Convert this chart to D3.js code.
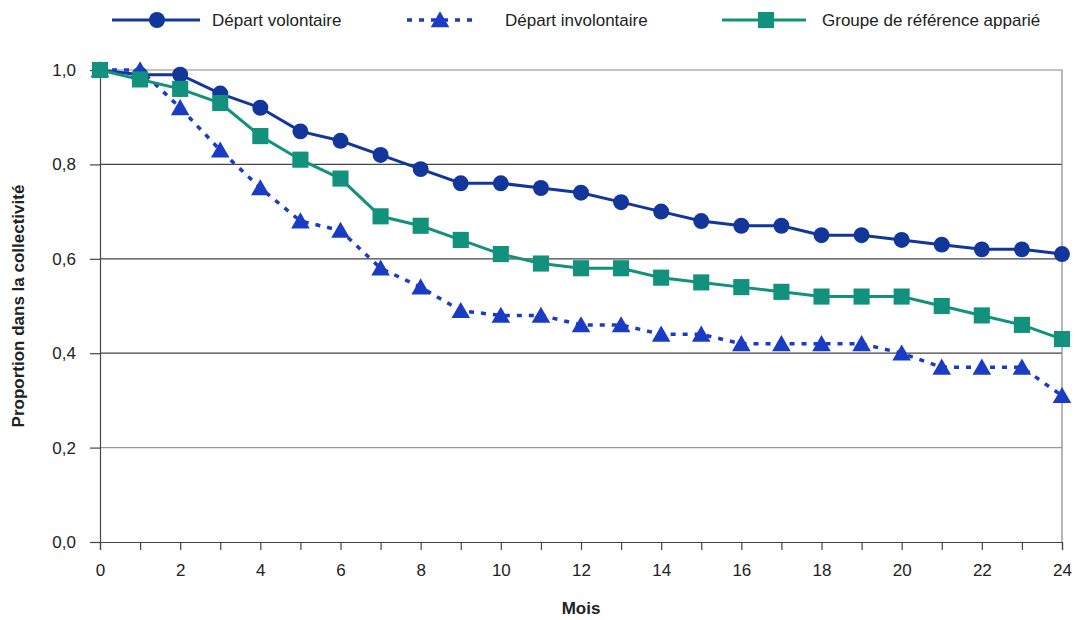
<!DOCTYPE html>
<html>
<head>
<meta charset="utf-8">
<script src="https://d3js.org/d3.v7.min.js"></script>
<style>
  body { margin: 0; background: #fff; }
  svg { font-family: "Liberation Sans", Arial, sans-serif; }
</style>
</head>
<body>
<div id="chart"></div>
<script>
const months = d3.range(0, 25);
const volontaire = [1.0, 0.99, 0.99, 0.95, 0.92, 0.87, 0.85, 0.82, 0.79, 0.76, 0.76, 0.75, 0.74, 0.72, 0.70, 0.68, 0.67, 0.67, 0.65, 0.65, 0.64, 0.63, 0.62, 0.62, 0.61];
const involontaire = [1.0, 1.0, 0.92, 0.83, 0.75, 0.68, 0.66, 0.58, 0.54, 0.49, 0.48, 0.48, 0.46, 0.46, 0.44, 0.44, 0.42, 0.42, 0.42, 0.42, 0.40, 0.37, 0.37, 0.37, 0.31];
const groupe = [1.0, 0.98, 0.96, 0.93, 0.86, 0.81, 0.77, 0.69, 0.67, 0.64, 0.61, 0.59, 0.58, 0.58, 0.56, 0.55, 0.54, 0.53, 0.52, 0.52, 0.52, 0.50, 0.48, 0.46, 0.43];
const yTicks = [0, 0.2, 0.4, 0.6, 0.8, 1.0];

const width = 1075, height = 620;
const margin = {top: 70, right: 13, bottom: 78, left: 100};
const fontSize = 17;

const svg = d3.select("#chart").append("svg")
    .attr("width", width)
    .attr("height", height);

const x = d3.scaleLinear().domain([0, 24]).range([margin.left, width - margin.right]);
const y = d3.scaleLinear().domain([0, 1]).range([height - margin.bottom, margin.top]);

// grid lines
svg.append("g")
  .selectAll("line")
  .data([0.2, 0.4, 0.6, 0.8])
  .join("line")
    .attr("x1", x(0)).attr("x2", x(24))
    .attr("y1", d => y(d)).attr("y2", d => y(d))
    .attr("stroke", d => d === 0.2 ? "#999" : "#444")
    .attr("stroke-width", 1.2);

// frame top and right
svg.append("path")
    .attr("d", `M${x(0)},${y(1)}H${x(24)}V${y(0)}`)
    .attr("fill", "none")
    .attr("stroke", "#888")
    .attr("stroke-width", 1.2);

// y axis
const yAxis = svg.append("g")
    .attr("transform", `translate(${x(0)},0)`)
    .call(d3.axisLeft(y).tickValues(yTicks).tickSize(10).tickPadding(14)
      .tickFormat(d => d3.format(".1f")(d).replace(".", ",")));
yAxis.select(".domain").attr("stroke", "#444").attr("stroke-width", 1.2);
yAxis.selectAll(".tick line").attr("stroke", "#444").attr("stroke-width", 1.2);
yAxis.selectAll("text").attr("font-size", fontSize).attr("fill", "#222")
    .attr("font-family", "'Liberation Sans', Arial, sans-serif");

// x axis
const xAxis = svg.append("g")
    .attr("transform", `translate(0,${y(0)})`)
    .call(d3.axisBottom(x).tickValues(months).tickSize(8).tickPadding(14)
      .tickFormat(d => d % 2 === 0 ? d : ""));
xAxis.select(".domain").attr("stroke", "#444").attr("stroke-width", 1.2);
xAxis.selectAll(".tick line").attr("stroke", "#444").attr("stroke-width", 1.2);
xAxis.selectAll("text").attr("font-size", fontSize).attr("fill", "#222")
    .attr("font-family", "'Liberation Sans', Arial, sans-serif");

// axis titles
svg.append("text")
    .attr("x", (x(0) + x(24)) / 2).attr("y", 614)
    .attr("text-anchor", "middle")
    .attr("font-size", 17).attr("font-weight", "bold").attr("fill", "#222")
    .text("Mois");

svg.append("text")
    .attr("transform", `translate(24,${y(0.5)}) rotate(-90)`)
    .attr("text-anchor", "middle")
    .attr("font-size", 17).attr("font-weight", "bold").attr("fill", "#222")
    .text("Proportion dans la collectivité");

const series = [
  {name: "Départ volontaire", values: volontaire, color: "#12369a", dash: null, shape: d3.symbolCircle, size: 200},
  {name: "Départ involontaire", values: involontaire, color: "#1a3cc4", dash: "5,7", shape: d3.symbolTriangle, size: 150},
  {name: "Groupe de référence apparié", values: groupe, color: "#12917d", dash: null, shape: d3.symbolSquare, size: 260}
];

const line = d3.line().x((d, i) => x(months[i])).y(d => y(d));

series.forEach(s => {
  svg.append("path")
      .datum(s.values)
      .attr("fill", "none")
      .attr("stroke", s.color)
      .attr("stroke-width", s.dash ? 3.5 : 3)
      .attr("stroke-dasharray", s.dash)
      .attr("d", line);
});

series.forEach(s => {
  svg.append("g")
    .selectAll("path")
    .data(s.values)
    .join("path")
      .attr("transform", (d, i) => `translate(${x(months[i])},${y(d) + (s.shape === d3.symbolTriangle ? 2 : 0)})`)
      .attr("d", d3.symbol().type(s.shape).size(s.size))
      .attr("fill", s.color);
});

// legend
const legendPos = [
  {x1: 112, x2: 200, m: 157, t: 212},
  {x1: 407, x2: 475, m: 440, t: 505},
  {x1: 722, x2: 806, m: 766, t: 822}
];
series.forEach((s, i) => {
  const p = legendPos[i];
  const g = svg.append("g");
  g.append("line")
      .attr("x1", p.x1).attr("x2", p.x2).attr("y1", 20).attr("y2", 20)
      .attr("stroke", s.color).attr("stroke-width", s.dash ? 3.5 : 3)
      .attr("stroke-dasharray", s.dash);
  g.append("path")
      .attr("transform", `translate(${p.m},${s.shape === d3.symbolTriangle ? 22 : 20})`)
      .attr("d", d3.symbol().type(s.shape).size(s.size))
      .attr("fill", s.color);
  g.append("text")
      .attr("x", p.t).attr("y", 26)
      .attr("font-size", 17).attr("fill", "#222")
      .text(s.name);
});
</script>
</body>
</html>
